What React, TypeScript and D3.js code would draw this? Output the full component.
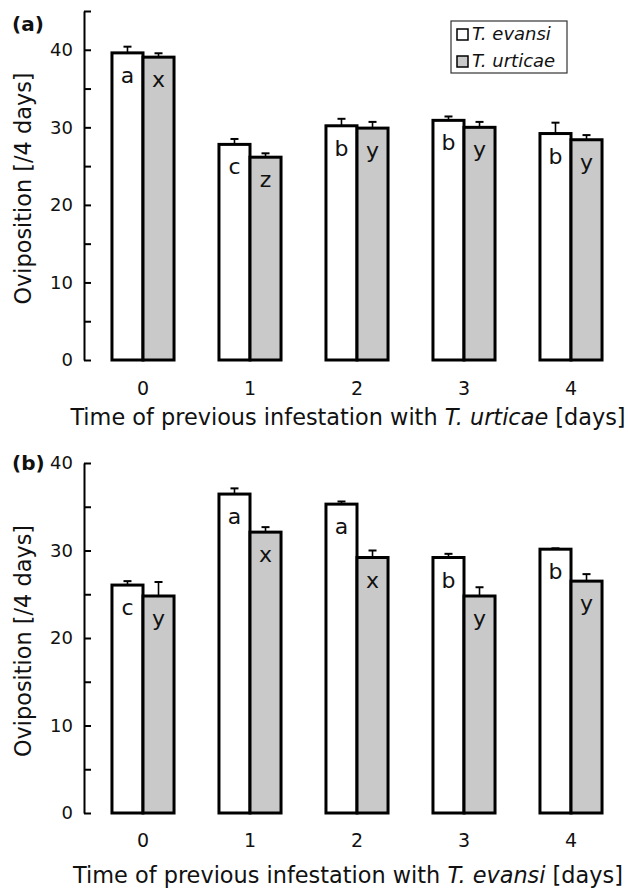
import * as d3 from "d3";
import { useEffect, useRef } from "react";

const days = ["0", "1", "2", "3", "4"];
const seriesNames = ["T. evansi", "T. urticae"];

// panel (a): previous infestation with T. urticae
const aEvansi = [39.6, 27.8, 30.2, 30.9, 29.2];
const aEvansiSe = [0.8, 0.7, 0.9, 0.5, 1.4];
const aUrticae = [39.05, 26.15, 29.9, 30.0, 28.4];
const aUrticaeSe = [0.5, 0.5, 0.8, 0.7, 0.6];
const aLettersEvansi = ["a", "c", "b", "b", "b"];
const aLettersUrticae = ["x", "z", "y", "y", "y"];

// panel (b): previous infestation with T. evansi
const bEvansi = [26.05, 36.45, 35.3, 29.2, 30.15];
const bEvansiSe = [0.45, 0.65, 0.3, 0.42, 0.1];
const bUrticae = [24.8, 32.1, 29.2, 24.8, 26.5];
const bUrticaeSe = [1.6, 0.57, 0.8, 1.0, 0.8];
const bLettersEvansi = ["c", "a", "a", "b", "b"];
const bLettersUrticae = ["y", "x", "x", "y", "y"];

const yTicksA = [0, 5, 10, 15, 20, 25, 30, 35, 40, 45];
const yTicksB = [0, 5, 10, 15, 20, 25, 30, 35, 40];

const FONT = "DejaVu Sans, Verdana, sans-serif";
const GREY = "#c8c9c8";

const App = () => {
    const ref = useRef(null);

    useEffect(() => {
        const svg = d3.select(ref.current);
        svg.selectAll("*").remove();

        const x = d3.scaleBand()
            .domain(days)
            .range([89.5, 624.5])
            .paddingInner(0.42)
            .paddingOuter(0.21);

        const sub = d3.scaleBand()
            .domain(seriesNames)
            .range([0, x.bandwidth()]);

        const drawPanel = (opts) => {
            const {y, ticks, ev, evSe, ur, urSe, evL, urL, panel, panelY, titleSpecies, titleY, tickY} = opts;
            const g = svg.append("g");

            // y axis, ticks pointing inward
            const axis = d3.axisLeft(y)
                .tickValues(ticks)
                .tickSizeInner(-7)
                .tickSizeOuter(0)
                .tickPadding(11)
                .tickFormat(d => (d % 10 === 0 ? String(d) : ""));
            const ag = g.append("g")
                .attr("transform", "translate(84,0)")
                .call(axis);
            ag.selectAll("path, line").attr("stroke", "#000").attr("stroke-width", 2);
            ag.selectAll("text")
                .attr("font-family", FONT)
                .attr("font-size", 18)
                .attr("fill", "#111");

            const rows = days.map((d, i) => [
                {day: d, s: seriesNames[0], v: ev[i], se: evSe[i], l: evL[i], fill: "#fff"},
                {day: d, s: seriesNames[1], v: ur[i], se: urSe[i], l: urL[i], fill: GREY},
            ]).flat();

            // error bars (upper only)
            const eb = g.append("g").attr("stroke", "#000");
            rows.forEach(r => {
                const cx = x(r.day) + sub(r.s) + sub.bandwidth() / 2;
                eb.append("line")
                    .attr("x1", cx).attr("x2", cx)
                    .attr("y1", y(r.v)).attr("y2", y(r.v + r.se))
                    .attr("stroke-width", 1.6);
                eb.append("line")
                    .attr("x1", cx - 4).attr("x2", cx + 4)
                    .attr("y1", y(r.v + r.se)).attr("y2", y(r.v + r.se))
                    .attr("stroke-width", 2);
            });

            g.append("g")
                .selectAll("rect")
                .data(rows)
                .enter().append("rect")
                .attr("x", d => x(d.day) + sub(d.s))
                .attr("y", d => y(d.v))
                .attr("width", sub.bandwidth())
                .attr("height", d => y(0) - y(d.v))
                .attr("fill", d => d.fill)
                .attr("stroke", "#000")
                .attr("stroke-width", 3);

            g.append("g")
                .attr("font-family", FONT)
                .attr("font-size", 22)
                .attr("text-anchor", "middle")
                .attr("fill", "#111")
                .selectAll("text")
                .data(rows)
                .enter().append("text")
                .attr("x", d => x(d.day) + sub(d.s) + sub.bandwidth() / 2)
                .attr("y", d => y(d.v) + 30)
                .text(d => d.l);

            // x tick labels (no x axis line)
            g.append("g")
                .attr("font-family", FONT)
                .attr("font-size", 19)
                .attr("text-anchor", "middle")
                .attr("fill", "#111")
                .selectAll("text")
                .data(days)
                .enter().append("text")
                .attr("x", d => x(d) + x.bandwidth() / 2)
                .attr("y", tickY)
                .text(d => d);

            const xt = g.append("text")
                .attr("x", 348)
                .attr("y", titleY)
                .attr("font-family", FONT)
                .attr("font-size", 22.4)
                .attr("text-anchor", "middle")
                .attr("fill", "#111");
            xt.append("tspan").text("Time of previous infestation with ");
            xt.append("tspan").attr("font-style", "italic").text(titleSpecies);
            xt.append("tspan").text(" [days]");

            const midY = (y.range()[0] + y.range()[1]) / 2;
            g.append("text")
                .attr("transform", `translate(31,${midY + 3}) rotate(-90)`)
                .attr("font-family", FONT)
                .attr("font-size", 22.4)
                .attr("text-anchor", "middle")
                .attr("fill", "#111")
                .text("Oviposition [/4 days]");

            g.append("text")
                .attr("x", 12)
                .attr("y", panelY)
                .attr("font-family", FONT)
                .attr("font-size", 20)
                .attr("font-weight", "bold")
                .attr("fill", "#111")
                .text(panel);
        };

        drawPanel({
            y: d3.scaleLinear().domain([0, 45]).range([360, 11]),
            ticks: yTicksA,
            ev: aEvansi, evSe: aEvansiSe, ur: aUrticae, urSe: aUrticaeSe,
            evL: aLettersEvansi, urL: aLettersUrticae,
            panel: "(a)", panelY: 31, titleSpecies: "T. urticae", titleY: 425, tickY: 395,
        });

        drawPanel({
            y: d3.scaleLinear().domain([0, 40]).range([813, 463]),
            ticks: yTicksB,
            ev: bEvansi, evSe: bEvansiSe, ur: bUrticae, urSe: bUrticaeSe,
            evL: bLettersEvansi, urL: bLettersUrticae,
            panel: "(b)", panelY: 470, titleSpecies: "T. evansi", titleY: 883, tickY: 847,
        });

        // legend
        const lg = svg.append("g");
        lg.append("rect")
            .attr("x", 451).attr("y", 21)
            .attr("width", 116).attr("height", 52)
            .attr("fill", "#fff").attr("stroke", "#333").attr("stroke-width", 1.2);
        seriesNames.forEach((s, i) => {
            lg.append("rect")
                .attr("x", 457).attr("y", 29 + i * 27)
                .attr("width", 11).attr("height", 11)
                .attr("fill", i === 0 ? "#fff" : GREY)
                .attr("stroke", "#000").attr("stroke-width", 1.5);
            lg.append("text")
                .attr("x", 472).attr("y", 40 + i * 27)
                .attr("font-family", FONT)
                .attr("font-size", 18)
                .attr("font-style", "italic")
                .attr("fill", "#111")
                .text(s);
        });
    }, []);

    return (
        <svg ref={ref} width={630} height={889}
             style={{position: "absolute", left: 0, top: 0, background: "#fff"}} />
    );
};

export default App;
